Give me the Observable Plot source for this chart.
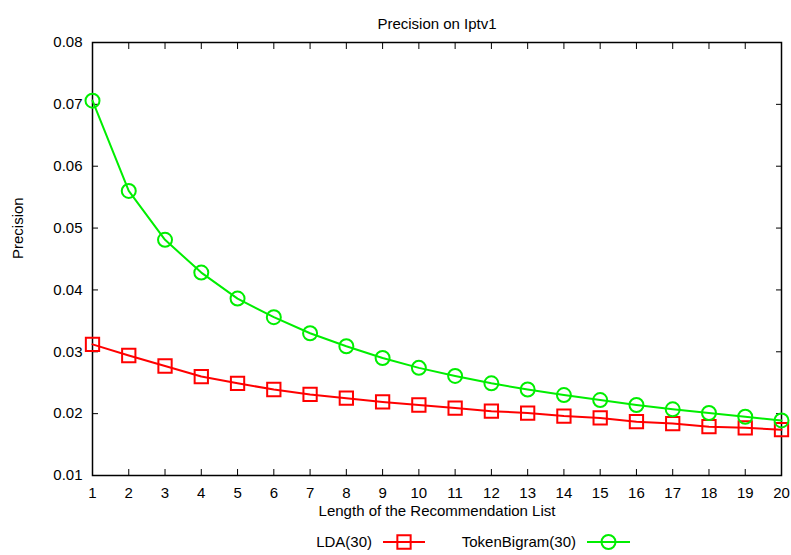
<!DOCTYPE html>
<html><head><meta charset="utf-8">
<script src="https://cdn.jsdelivr.net/npm/d3@7"></script>
<script src="https://cdn.jsdelivr.net/npm/@observablehq/plot@0.6"></script>
<style>
body{margin:0;background:#fff}
svg{font-family:"Liberation Sans",Arial,Helvetica,sans-serif}
</style>
</head><body><div id="chart"></div>
<script>
const listLength = [1,2,3,4,5,6,7,8,9,10,11,12,13,14,15,16,17,18,19,20];
const ldaValues = [0.0312,0.0294,0.0277,0.0260,0.0249,0.0239,0.0231,0.0225,0.0219,0.0214,0.0209,0.0204,0.0201,0.0196,0.0193,0.0187,0.0184,0.0179,0.0177,0.0174];
const tokenBigramValues = [0.0706,0.0560,0.0481,0.0428,0.0386,0.0356,0.0330,0.0309,0.0290,0.0274,0.0261,0.0249,0.0239,0.0230,0.0222,0.0214,0.0207,0.0201,0.0195,0.0189];
const yTicks = [0.01,0.02,0.03,0.04,0.05,0.06,0.07,0.08];
const seriesNames = ["LDA(30)", "TokenBigram(30)"];
const seriesColors = ["#ff0000", "#00ee00"];
const seriesSymbols = ["square", "circle"];
const titleText = "Precision on Iptv1";
const xLabel = "Length of the Recommendation List";
const yLabel = "Precision";

const rows = [
  ...listLength.map((x, i) => ({x, y: ldaValues[i], s: seriesNames[0]})),
  ...listLength.map((x, i) => ({x, y: tokenBigramValues[i], s: seriesNames[1]}))
];
const FONT = "15px";

const chart = Plot.plot({
  width: 791, height: 555,
  marginLeft: 92, marginRight: 10, marginTop: 42, marginBottom: 80,
  style: {fontFamily: '"Liberation Sans", Arial, sans-serif', fontSize: FONT, background: "white", color: "black", overflow: "visible"},
  x: {domain: [1, 20]},
  y: {domain: [0.01, 0.08]},
  color: {domain: seriesNames, range: seriesColors},
  symbol: {domain: seriesNames, range: seriesSymbols},
  marks: [
    Plot.axisX({anchor: "bottom", ticks: listLength, tickSize: -6, tickPadding: 18, tickFormat: d => String(d), label: null, fontSize: FONT}),
    Plot.axisX({anchor: "top", ticks: listLength, tickSize: -6, tickFormat: () => "", label: null}),
    Plot.axisY({anchor: "left", ticks: yTicks, tickSize: -6, tickPadding: 16, tickFormat: d => d.toFixed(2), label: null, fontSize: FONT}),
    Plot.axisY({anchor: "right", ticks: yTicks, tickSize: -6, tickFormat: () => "", label: null}),
    Plot.frame({stroke: "black", strokeWidth: 1.5}),
    Plot.line(rows, {x: "x", y: "y", stroke: "s", z: "s", curve: "linear", strokeWidth: 2}),
    Plot.dot(rows.filter(d => d.s === seriesNames[0]), {x: "x", y: "y", stroke: "s", symbol: "s", r: 7.5, strokeWidth: 2, fill: "none"}),
    Plot.dot(rows.filter(d => d.s === seriesNames[1]), {x: "x", y: "y", stroke: "s", symbol: "s", r: 7, strokeWidth: 2, fill: "none"}),
    Plot.text([titleText], {text: d => d, frameAnchor: "top", dy: -24, fontSize: FONT, fill: "black"}),
    Plot.text([xLabel], {text: d => d, frameAnchor: "bottom", dy: 40, fontSize: FONT, fill: "black"}),
    Plot.text([yLabel], {text: d => d, frameAnchor: "left", dx: -74, rotate: -90, fontSize: FONT, fill: "black"})
  ]
});
document.getElementById("chart").appendChild(chart);

// legend
const svg = d3.select(chart);
const legendY = 542;
const items = [
  {name: seriesNames[0], color: seriesColors[0], symbol: d3.symbolSquare, textEnd: 372, lineStart: 383, lineEnd: 425, size: 7.5},
  {name: seriesNames[1], color: seriesColors[1], symbol: d3.symbolCircle, textEnd: 576, lineStart: 587, lineEnd: 630, size: 7}
];
const lg = svg.append("g");
items.forEach(it => {
  lg.append("text").attr("x", it.textEnd).attr("y", legendY).attr("dy", "0.35em")
    .attr("text-anchor", "end").attr("font-size", FONT).attr("fill", "black").text(it.name);
  lg.append("line").attr("x1", it.lineStart).attr("x2", it.lineEnd).attr("y1", legendY).attr("y2", legendY)
    .attr("stroke", it.color).attr("stroke-width", 2);
  lg.append("path").attr("transform", `translate(${(it.lineStart + it.lineEnd) / 2},${legendY})`)
    .attr("d", d3.symbol(it.symbol, it.size * it.size * Math.PI)())
    .attr("fill", "none").attr("stroke", it.color).attr("stroke-width", 2);
});
</script>
</body></html>
